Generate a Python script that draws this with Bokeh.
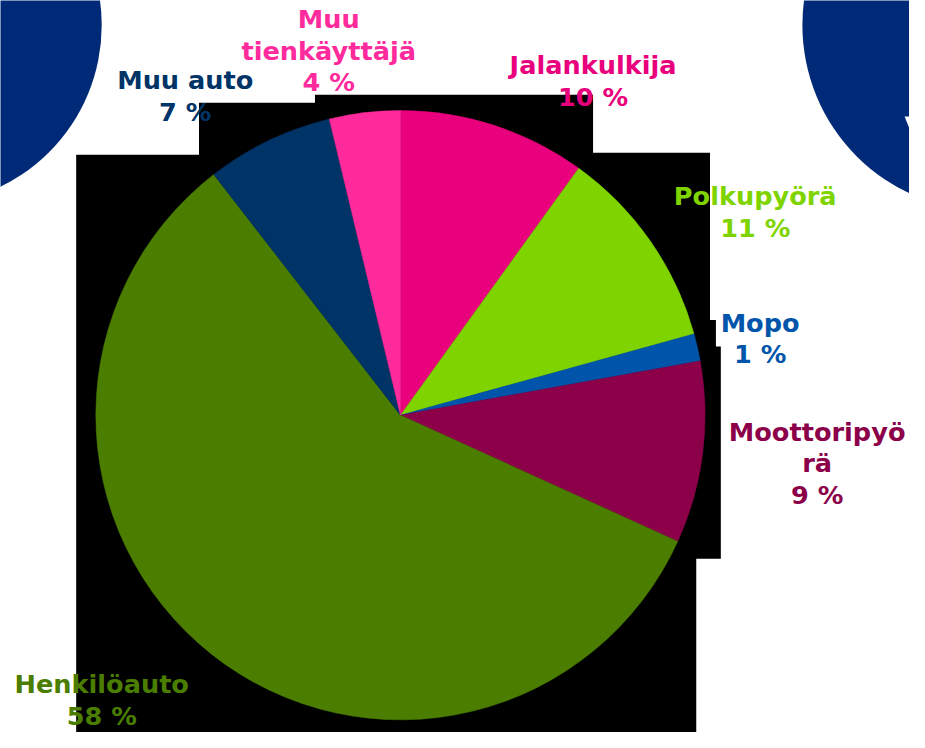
import math
from bokeh.plotting import figure
from bokeh.models import ColumnDataSource, Range1d
from bokeh.core.properties import value
from bokeh.embed import file_html
from bokeh.resources import INLINE

# ---- data ----
categories = ["Jalankulkija", "Polkupyörä", "Mopo", "Moottoripyörä",
              "Henkilöauto", "Muu auto", "Muu tienkäyttäjä"]
shares = [9.95, 10.75, 1.45, 9.65, 57.7, 6.75, 3.75]
pct_labels = [10, 11, 1, 9, 58, 7, 4]
colors = ["#E8007D", "#7FD400", "#0055AA", "#8B0049",
          "#4B7E00", "#003366", "#FF2A9C"]

# ---- layout (coordinates of the original 925x748 picture) ----
W, H = 925, 748
PW, PH = 909, 732
S = PW / W                      # uniform scale, pixels per unit
def Y(py):
    return H - py

label_wrap = {"Muu tienkäyttäjä": "Muu\ntienkäyttäjä",
              "Moottoripyörä": "Moottoripyö\nrä"}
label_pos = [(603, 82), (768, 215), (773, 344), (831, 471),
             (103, 712), (188, 97), (334, 51)]
pie_cx, pie_cy, pie_r = 407, 422, 310

p = figure(width=PW, height=PH,
           x_range=Range1d(0, W), y_range=Range1d(H - PH / S, H),
           output_backend="svg", toolbar_location=None,
           min_border=0, background_fill_color="white",
           border_fill_color="white")
p.axis.visible = False
p.grid.visible = False
p.outline_line_color = None

# decorative navy circles
p.circle(x=[-80, 1005], y=[Y(25), Y(25)], radius=[183, 189],
         fill_color="#002A78", line_color=None)
# fragment of a white letter at the right edge
p.patch(x=[920, 926, 926], y=[Y(118), Y(118), Y(133)],
        fill_color="white", line_color=None)

# black backdrop behind the pie
bx = [77, 202, 202, 320, 320, 603, 603, 722, 722, 728, 728, 733, 733, 708, 708, 77]
by = [157, 157, 104, 104, 96, 96, 155, 155, 325, 325, 352, 352, 568, 568, 750, 750]
p.patch(x=bx, y=[Y(v) for v in by], fill_color="black", line_color=None)

# pie
total = sum(shares)
starts, ends = [], []
cum = 0.0
for s in shares:
    a0 = math.pi / 2 - 2 * math.pi * (cum + s) / total
    a1 = math.pi / 2 - 2 * math.pi * cum / total
    starts.append(a0)
    ends.append(a1)
    cum += s
src = ColumnDataSource(dict(cat=categories, share=shares, color=colors,
                            start=starts, end=ends,
                            x=[pie_cx] * len(shares), y=[Y(pie_cy)] * len(shares)))
p.wedge(x="x", y="y", radius=pie_r, start_angle="start", end_angle="end",
        fill_color="color", line_color="color", line_width=0.5, source=src)

# labels
texts = [f"{label_wrap.get(c, c)}\n{v} %" for c, v in zip(categories, pct_labels)]
lsrc = ColumnDataSource(dict(x=[q[0] for q in label_pos],
                             y=[Y(q[1]) for q in label_pos],
                             text=texts, color=colors))
p.text(x="x", y="y", text="text", text_color="color", source=lsrc,
       text_font=value("DejaVu Sans"), text_font_style="bold",
       text_font_size=f"{26 * S:.1f}px", text_align="center",
       text_baseline="middle", text_line_height=1.06)

open("out.html", "w").write(file_html(p, INLINE))
